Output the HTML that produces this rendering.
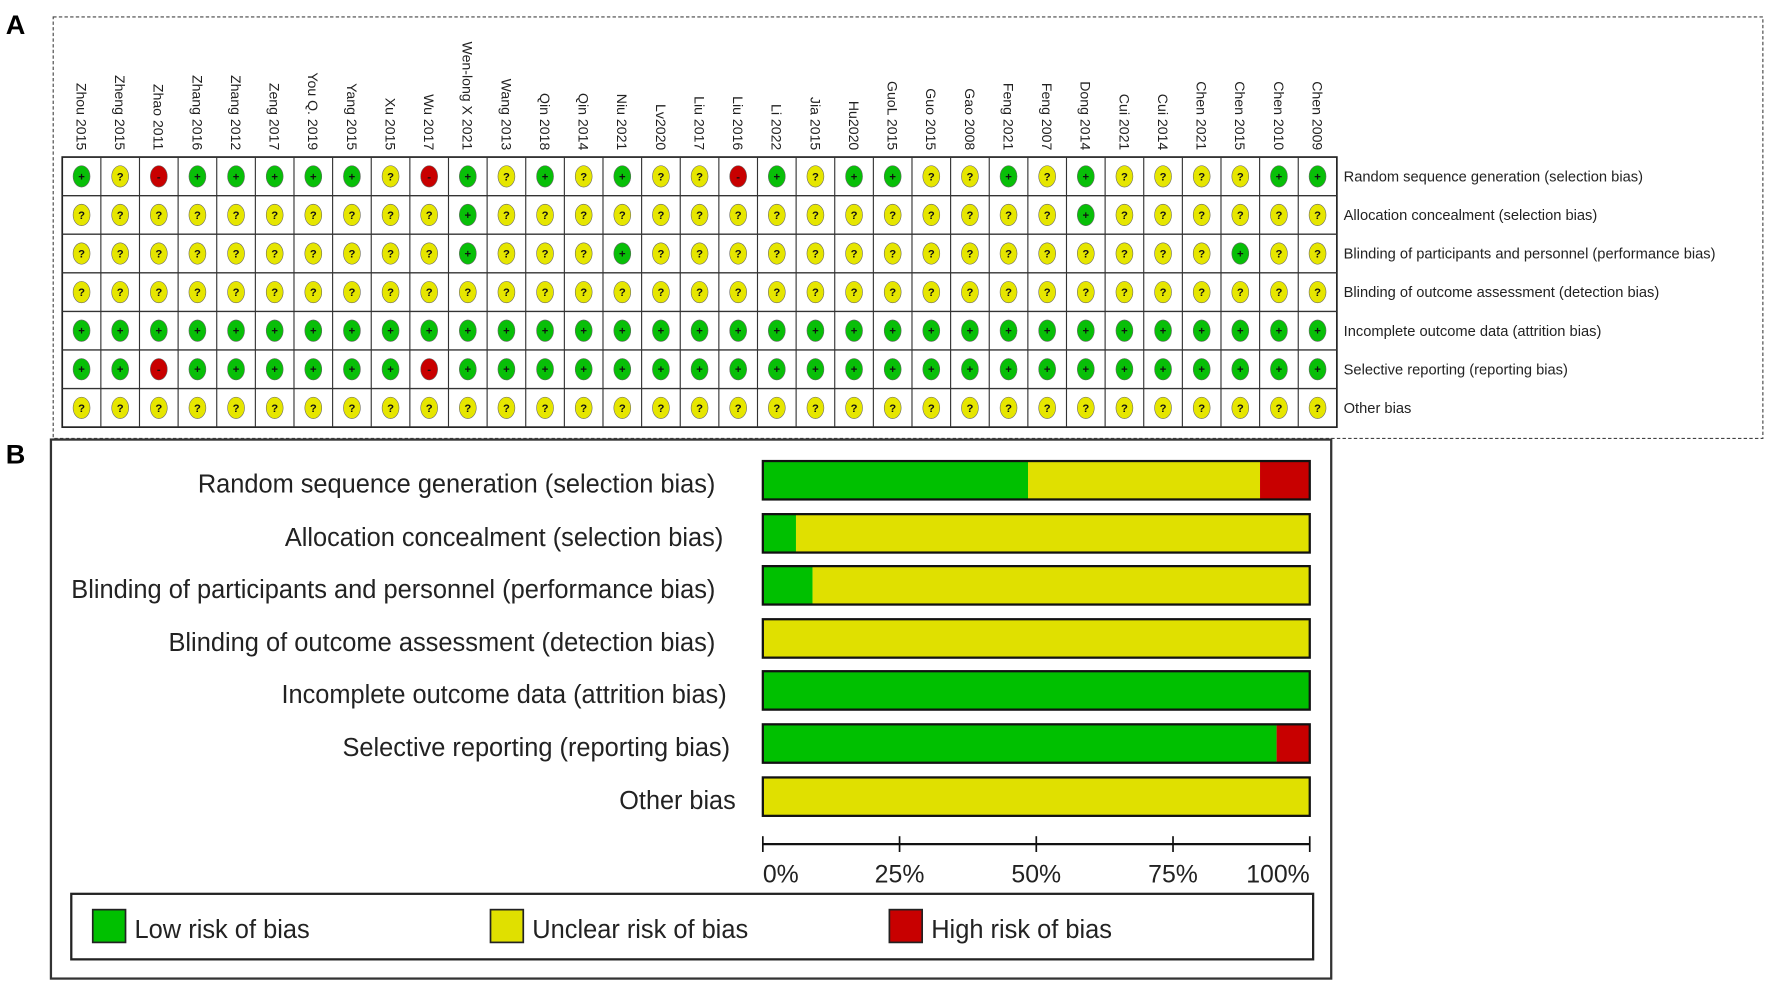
<!DOCTYPE html>
<html><head><meta charset="utf-8"><style>
html,body{margin:0;padding:0;background:#fff;}
svg{display:block;font-family:"Liberation Sans",Arial,sans-serif;}
</style></head><body>
<svg id="chart" width="1772" height="991" viewBox="0 0 1568 877" xmlns="http://www.w3.org/2000/svg">
<rect width="1568" height="877" fill="#fff"/>
<text x="5" y="30" font-size="24" font-weight="bold">A</text>
<rect x="47" y="15" width="1513" height="373" fill="none" stroke="#444" stroke-width="1" stroke-dasharray="3,2"/>
<text x="5" y="410" font-size="24" font-weight="bold">B</text>
<rect x="45" y="389" width="1133" height="477" fill="none" stroke="#333" stroke-width="2"/>
<g id="gA"></g><g id="gB"></g>
</svg>
<script>
const studies = ["Zhou 2015","Zheng 2015","Zhao 2011","Zhang 2016","Zhang 2012","Zeng 2017","You Q. 2019","Yang 2015","Xu 2015","Wu 2017","Wen-long X 2021","Wang 2013","Qin 2018","Qin 2014","Niu 2021","Lv2020","Liu 2017","Liu 2016","Li 2022","Jia 2015","Hu2020","GuoL 2015","Guo 2015","Gao 2008","Feng 2021","Feng 2007","Dong 2014","Cui 2021","Cui 2014","Chen 2021","Chen 2015","Chen 2010","Chen 2009"];
const domains = ["Random sequence generation (selection bias)","Allocation concealment (selection bias)","Blinding of participants and personnel (performance bias)","Blinding of outcome assessment (detection bias)","Incomplete outcome data (attrition bias)","Selective reporting (reporting bias)","Other bias"];
const judgRandom    = "+?-+++++?-+?+?+??-+?++??+?+????++";
const judgAlloc     = "??????????+???????????????+??????";
const judgBlindPart = "??????????+???+???????????????+??";
const judgBlindOut  = "?????????????????????????????????";
const judgIncomplete= "+++++++++++++++++++++++++++++++++";
const judgSelective = "++-++++++-+++++++++++++++++++++++";
const judgOther     = "?????????????????????????????????";
const judgements = [judgRandom,judgAlloc,judgBlindPart,judgBlindOut,judgIncomplete,judgSelective,judgOther];
const ticks = ["0%","25%","50%","75%","100%"];
const legendLabels = ["Low risk of bias","Unclear risk of bias","High risk of bias"];

const NS="http://www.w3.org/2000/svg";
const COL={"+":"#08bf08","?":"#e6e600","-":"#c80000"};
function mk(t,a,p){const e=document.createElementNS(NS,t);for(const k in a)e.setAttribute(k,a[k]);p.appendChild(e);return e;}
const gA=document.getElementById('gA'), gB=document.getElementById('gB');
const gx0=55,gx1=1183,gy0=139,gy1=378;
const cw=(gx1-gx0)/studies.length, rh=(gy1-gy0)/domains.length;
const colX=i=>gx0+cw*(i+0.5), rowY=j=>gy0+rh*(j+0.5);
const grid=mk('rect',{x:gx0,y:gy0,width:gx1-gx0,height:gy1-gy0,fill:'#fff',stroke:'#222','stroke-width':1.5},gA);


for(let i=1;i<studies.length;i++){mk('line',{x1:gx0+cw*i,x2:gx0+cw*i,y1:gy0,y2:gy1,stroke:'#333','stroke-width':1},gA);}
for(let j=1;j<domains.length;j++){mk('line',{x1:gx0,x2:gx1,y1:gy0+rh*j,y2:gy0+rh*j,stroke:'#333','stroke-width':1.2},gA);}
studies.forEach((s,i)=>{
  const t=mk('text',{x:0,y:0,transform:`translate(${colX(i)-4.5},133) rotate(90)`,'font-size':12.5,'text-anchor':'end',fill:'#222'},gA);
  t.textContent=s;
  
  
});
const aLabelW=[280,97+0,346,294,104+0,210,62];
domains.forEach((d,j)=>{
  const t=mk('text',{x:1189,y:rowY(j)+4.5,'font-size':13,fill:'#222'},gA);
  t.textContent=d;
  
  
  for(let i=0;i<studies.length;i++){
    const v=judgements[j][i];
    const c=mk('ellipse',{cx:colX(i),cy:rowY(j),rx:7.5,ry:9.5,fill:COL[v],stroke:'#666','stroke-width':0.5},gA);
    
    
    const g=mk('text',{x:colX(i),y:rowY(j)+3.5,'font-size':10,'font-weight':'bold','text-anchor':'middle',fill:'#111'},gA);
    g.textContent=v==='+'?'+':(v==='?'?'?':'-');
  }
});
const bx0=675,bx1=1159, bTop=[408,455,501,548,594,641,688], bH=34;
const xs=p=>bx0+(bx1-bx0)*p;
const bLabelRight=[633,640,633,633,643,646,651], bLabelLen=[458,388,570,484,394,343,103];
domains.forEach((d,j)=>{
  const s=judgements[j], n=s.length;
  const low=[...s].filter(c=>c==='+').length/n, unc=[...s].filter(c=>c==='?').length/n, high=[...s].filter(c=>c==='-').length/n;
  const y=bTop[j];
  const segs=[[0,low,'#00c000'],[low,low+unc,'#e0e000'],[low+unc,low+unc+high,'#c80000']];
  segs.forEach(([a,b,c])=>{ if(b-a<=0)return;
    const r=mk('rect',{x:xs(a),y:y,width:xs(b)-xs(a),height:bH,fill:c},gB);
    
    
  });
  mk('rect',{x:bx0,y:y,width:bx1-bx0,height:bH,fill:'none',stroke:'#111','stroke-width':2},gB);
  const t=mk('text',{x:bLabelRight[j]-bLabelLen[j],y:y+28,'font-size':23,textLength:bLabelLen[j],lengthAdjust:'spacingAndGlyphs',fill:'#222'},gB);
  t.textContent=d;
  
  
});
const ax=mk('line',{x1:bx0,x2:bx1,y1:747,y2:747,stroke:'#111','stroke-width':2},gB);


ticks.forEach((tk,i)=>{
  const x=xs(i/(ticks.length-1));
  mk('line',{x1:x,x2:x,y1:740,y2:754,stroke:'#111','stroke-width':1.5},gB);
  const t=mk('text',{x:x,y:781,'font-size':22,'text-anchor':i===0?'start':(i===ticks.length-1?'end':'middle'),fill:'#222'},gB);
  t.textContent=tk;
  
  
});
const lg=mk('rect',{x:63,y:791,width:1099,height:58,fill:'#fff',stroke:'#222','stroke-width':2},gB);


const lgX=[82,434,787], lgC=['#00c000','#e0e000','#c80000'], lgLen=[155,191,160];
legendLabels.forEach((l,i)=>{
  const s=mk('rect',{x:lgX[i],y:805,width:29,height:29,fill:lgC[i],stroke:'#222','stroke-width':1.5},gB);
  
  
  const t=mk('text',{x:lgX[i]+37,y:830,'font-size':23,textLength:lgLen[i],lengthAdjust:'spacingAndGlyphs',fill:'#222'},gB);
  t.textContent=l;
  
  
});
</script>
</body></html>
